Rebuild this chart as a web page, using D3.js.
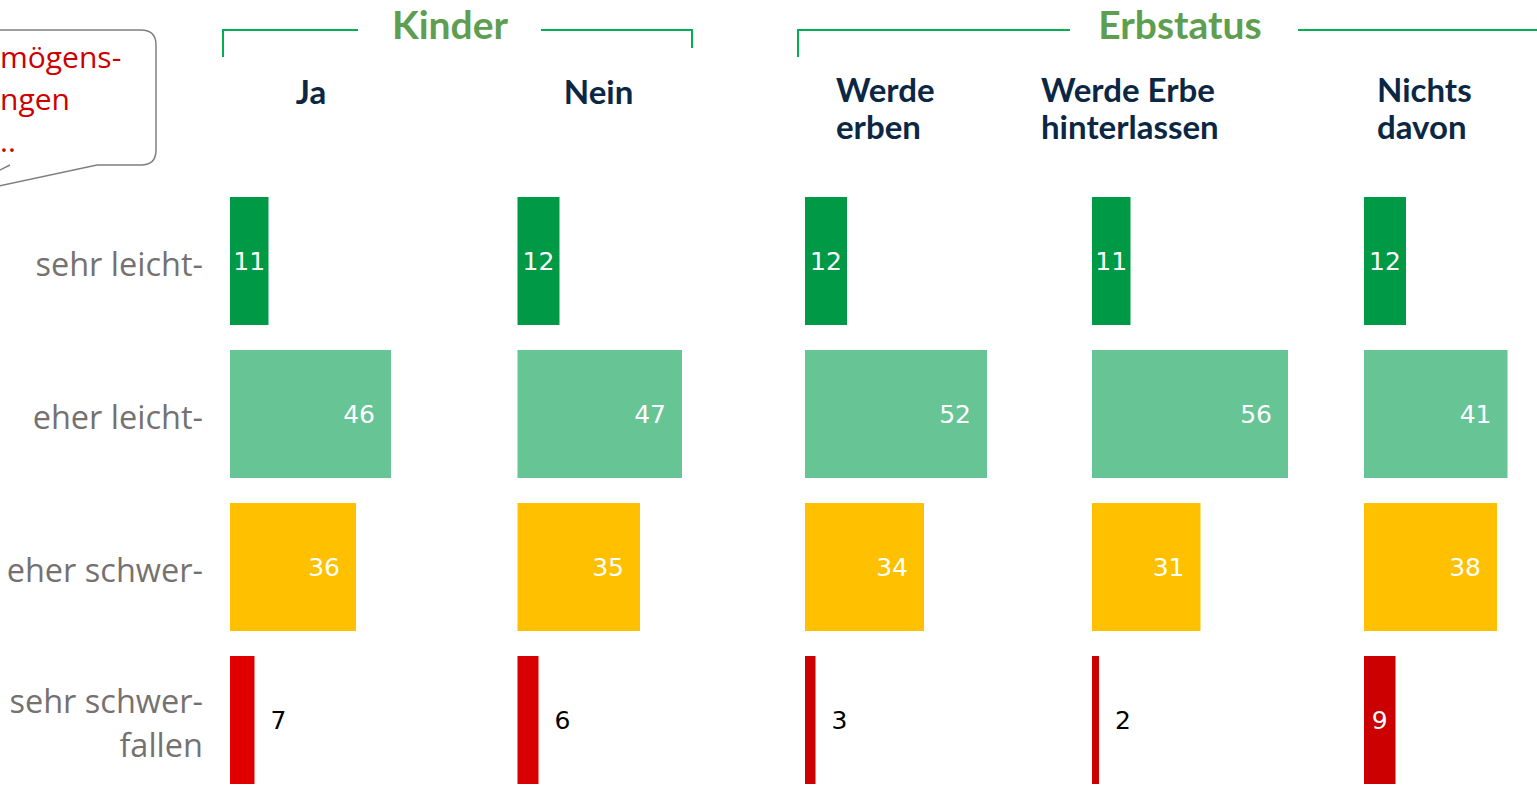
<!DOCTYPE html>
<html>
<head>
<meta charset="utf-8">
<script src="https://cdn.jsdelivr.net/npm/d3@7"></script>
<style>
  body { margin: 0; background: #fff; overflow: hidden; }
  svg { display: block; }
</style>
</head>
<body>
<svg id="chart" width="1537" height="793"></svg>
<script>
// categories / data
var rows = ["sehr leicht-", "eher leicht-", "eher schwer-", "sehr schwer-"];
var rowLabels = [["sehr leicht-"], ["eher leicht-"], ["eher schwer-"], ["sehr schwer-", "fallen"]];
var columns = ["Ja", "Nein", "Werde erben", "Werde Erbe hinterlassen", "Nichts davon"];
var columnLabels = [["Ja"], ["Nein"], ["Werde", "erben"], ["Werde Erbe", "hinterlassen"], ["Nichts", "davon"]];
var groups = ["Kinder", "Erbstatus"];
var groupOf = ["Kinder", "Kinder", "Erbstatus", "Erbstatus", "Erbstatus"];

var valJa         = [11, 46, 36, 7];
var valNein       = [12, 47, 35, 6];
var valErben      = [12, 52, 34, 3];
var valHinterlass = [11, 56, 31, 2];
var valNichts     = [12, 41, 38, 9];
var values = [valJa, valNein, valErben, valHinterlass, valNichts];

// only the part of the callout that is visible in the slide crop
var calloutLines = ["mögens-", "ngen", ".."];

// colours
var rowColor = ["#009a46", "#66c495", "#ffc000", "#cc0000"];
var redKinder = ["#e00000", "#d80000"];

var svg = d3.select("#chart");

// scales
var x = d3.scaleLinear().domain([0, 100]).range([0, 350]);   // 3.5 px per percent
var colX = d3.scaleOrdinal().domain(columns).range([230, 517.5, 805, 1092, 1364]);
var y = d3.scaleBand().domain(rows).range([197, 784]).paddingInner(25 / 153).paddingOuter(0);

// flatten to cells
var cells = [];
columns.forEach(function(c, ci){
    rows.forEach(function(r, ri){
        cells.push({col: c, row: r, ci: ci, ri: ri, value: values[ci][ri]});
    });
});

function fillOf(d){
    if (d.ri == 3 && groupOf[d.ci] == "Kinder") return redKinder[d.ci];
    return rowColor[d.ri];
}

// bars
svg.append("g").attr("class", "bars")
    .selectAll("rect")
    .data(cells).enter()
    .append("rect")
    .attr("x", d => colX(d.col))
    .attr("y", d => y(d.row))
    .attr("width", d => x(d.value))
    .attr("height", y.bandwidth())
    .attr("fill", fillOf);

// value labels
svg.append("g").attr("class", "values")
    .selectAll("text")
    .data(cells).enter()
    .append("text")
    .attr("x", d => {
        var w = x(d.value);
        if (w < 28) return colX(d.col) + w + 16;      // outside
        if (w < 60) return colX(d.col) + w / 2;       // centred
        return colX(d.col) + w - 16;                  // inside end
    })
    .attr("y", d => y(d.row) + y.bandwidth() / 2)
    .attr("dy", "0.36em")
    .attr("text-anchor", d => {
        var w = x(d.value);
        if (w < 28) return "start";
        if (w < 60) return "middle";
        return "end";
    })
    .attr("fill", d => x(d.value) < 28 ? "#000" : "#fff")
    .style("font-family", "'DejaVu Sans', sans-serif")
    .style("font-size", "25px")
    .text(d => d.value);

// row labels
var rl = svg.append("g").attr("class", "row-labels")
    .selectAll("text")
    .data(rows).enter()
    .append("text")
    .attr("text-anchor", "end")
    .attr("fill", "#767171")
    .style("font-family", "'Open Sans', sans-serif")
    .style("font-size", "32.5px");
rl.each(function(r, i){
    var lines = rowLabels[i];
    var cy = y(r) + y.bandwidth() / 2 + 3 - (lines.length - 1) * 22;
    d3.select(this).selectAll("tspan")
        .data(lines).enter()
        .append("tspan")
        .attr("x", 203)
        .attr("y", (t, j) => cy + j * 44)
        .attr("dy", "0.36em")
        .text(t => t);
});

// column headers
var ch = svg.append("g").attr("class", "col-labels")
    .selectAll("text")
    .data(columns).enter()
    .append("text")
    .attr("fill", "#0b2744")
    .style("font-family", "Lato, sans-serif")
    .style("font-weight", "bold")
    .style("font-size", "33px");
ch.each(function(c, i){
    var lines = columnLabels[i];
    var single = lines.length == 1;
    var tx = single ? colX(c) + 81 : [0, 0, 836, 1041, 1377][i];
    d3.select(this)
        .attr("text-anchor", single ? "middle" : "start")
        .selectAll("tspan")
        .data(lines).enter()
        .append("tspan")
        .attr("x", tx)
        .attr("y", (t, j) => single ? 104 : 102 + j * 37)
        .text(t => t);
});

// group brackets
var bracket = [
    {name: "Kinder",    x0: 223, x1: 692, gap0: 358, gap1: 541, tx: 450, rightTick: true},
    {name: "Erbstatus", x0: 798, x1: 1537, gap0: 1070, gap1: 1298, tx: 1180, rightTick: false}
];
var bg = svg.append("g").attr("class", "groups");
bracket.forEach(function(b){
    bg.append("path")
        .attr("d", "M" + b.x0 + ",57V30H" + b.gap0)
        .attr("fill", "none").attr("stroke", "#00b050").attr("stroke-width", 2);
    bg.append("path")
        .attr("d", "M" + b.gap1 + ",30H" + b.x1 + (b.rightTick ? "V48" : ""))
        .attr("fill", "none").attr("stroke", "#00b050").attr("stroke-width", 2);
    bg.append("text")
        .attr("x", b.tx).attr("y", 39)
        .attr("text-anchor", "middle")
        .attr("fill", "#5e9e50")
        .style("font-family", "Lato, sans-serif")
        .style("font-weight", "bold")
        .style("font-size", "39px")
        .text(b.name);
});

// callout bubble (cut off at the left edge)
var co = svg.append("g").attr("class", "callout");
co.append("path")
    .attr("d", "M-20,30H141Q156,30 156,45V150Q156,165 141,165H97L-20,190M10,165L-20,180M-20,165")
    .attr("fill", "#fff").attr("stroke", "#7f7f7f").attr("stroke-width", 1.5);
co.selectAll("text")
    .data(calloutLines).enter()
    .append("text")
    .attr("x", 0)
    .attr("y", (t, i) => 57 + i * 42)
    .attr("dy", "0.36em")
    .attr("text-anchor", "start")
    .attr("fill", "#cc0000")
    .style("font-family", "'Open Sans', sans-serif")
    .style("font-size", "30px")
    .text(t => t);
</script>
</body>
</html>
